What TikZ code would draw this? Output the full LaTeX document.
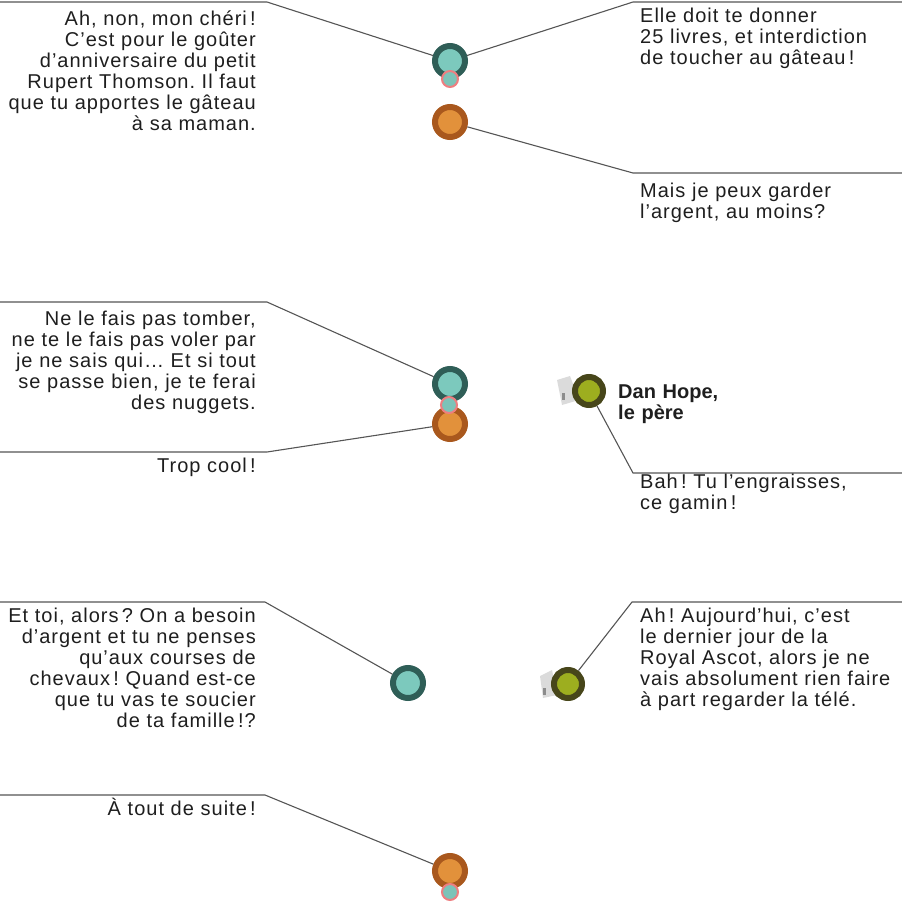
\documentclass[tikz,border=0pt]{standalone}
\usepackage{fontspec}
\setmainfont{Liberation Sans}
\newfontfamily\tracked[LetterSpace=5]{Liberation Sans}
\frenchspacing
\definecolor{tealdark}{HTML}{2F5E57}
\definecolor{teallight}{HTML}{7CC9BD}
\definecolor{orangedark}{HTML}{A9581D}
\definecolor{orangelight}{HTML}{E2913B}
\definecolor{pinkring}{HTML}{EE7E80}
\definecolor{olivedark}{HTML}{47461A}
\definecolor{olivelight}{HTML}{9DAE1F}
\definecolor{wire}{HTML}{555555}
\definecolor{ink}{HTML}{1E1E1E}
\begin{document}
\begin{tikzpicture}[x=1pt,y=-1pt,
		mum/.style={circle,inner sep=0,minimum size=30pt,line width=6pt,draw=tealdark,fill=teallight},
		boy/.style={circle,inner sep=0,minimum size=30pt,line width=6pt,draw=orangedark,fill=orangelight},
		baby/.style={circle,inner sep=0,minimum size=16pt,line width=2pt,draw=pinkring,fill=teallight!92!gray},
		dad/.style={circle,inner sep=0,minimum size=28pt,line width=6pt,draw=olivedark,fill=olivelight},
		paper/.style={fill=black!14},
		talk/.style={draw=wire,line width=1.1pt},
		saysl/.style={anchor=base east,text width=270pt,align=right,inner sep=0,text=ink,font=\tracked\frenchspacing\fontsize{20}{21}\selectfont},
		saysr/.style={anchor=base west,text width=262pt,align=left,inner sep=0,text=ink,font=\tracked\frenchspacing\fontsize{20}{21}\selectfont}]
		\useasboundingbox (0,0) rectangle (902,913);
		%family
		\node[mum](m1) at (450,61) {};
		\node[boy](k1) at (450,122) {};
		\node[mum](m2) at (450,384) {};
		\node[boy](k2) at (450,424) {};
		\node[mum](m3) at (408,683) {};
		\node[boy](k3) at (450,871) {};
		\node[baby](b3) at (450,892) {};
		%father with his paper
		\fill[paper] (557,380) -- (570,376) -- (579,400) -- (562,405) -- cycle;
		\fill[black!45] (562,393) rectangle (565,400);
		\node[dad](d1) at (589,391) {};
		\fill[paper] (540,676) -- (552,670) -- (557,695) -- (543,698) -- cycle;
		\fill[black!45] (543,688) rectangle (546,695);
		\node[dad](d2) at (568,684) {};
		%bends
		\coordinate (p1) at (267,2);   \coordinate (q1) at (0,2);
		\coordinate (p2) at (633,2);   \coordinate (q2) at (902,2);
		\coordinate (p3) at (633,173); \coordinate (q3) at (902,173);
		\coordinate (p4) at (267,302); \coordinate (q4) at (0,302);
		\coordinate (p5) at (267,452); \coordinate (q5) at (0,452);
		\coordinate (p6) at (633,473); \coordinate (q6) at (902,473);
		\coordinate (p7) at (265,602); \coordinate (q7) at (0,602);
		\coordinate (p8) at (632,602); \coordinate (q8) at (902,602);
		\coordinate (p9) at (265,795); \coordinate (q9) at (0,795);
		%lines
		\draw[talk] (m1) -- (p1) -- (q1);
		\draw[talk] (m1) -- (p2) -- (q2);
		\draw[talk] (k1) -- (p3) -- (q3);
		\draw[talk] (m2) -- (p4) -- (q4);
		\draw[talk] (k2) -- (p5) -- (q5);
		\draw[talk] (d1) -- (p6) -- (q6);
		\draw[talk] (m3) -- (p7) -- (q7);
		\draw[talk] (d2) -- (p8) -- (q8);
		\draw[talk] (k3) -- (p9) -- (q9);
		\node[baby](b1) at (450,79) {};
		\node[baby](b2) at (449,405) {};
		%speech
		\node[saysl](t1) at (256,25) {Ah, non, mon chéri\,!\\C’est pour le goûter\\d’anniversaire du petit\\Rupert Thomson. Il faut\\que tu apportes le gâteau\\à sa maman.};
		\node[saysr](t2) at (640,22) {Elle doit te donner\\25 livres, et interdiction\\de toucher au gâteau\,!};
		\node[saysr](t3) at (640,197) {Mais je peux garder\\l’argent, au moins?};
		\node[saysl](t4) at (256,325) {Ne le fais pas tomber,\\ne te le fais pas voler par\\je ne sais qui… Et si tout\\se passe bien, je te ferai\\des nuggets.};
		\node[saysl](t5) at (256,472) {Trop cool\,!};
		\node[saysr,font=\fontsize{20}{21}\selectfont\bfseries](who) at (618,398) {Dan Hope,\\le père};
		\node[saysr](t6) at (640,488) {Bah\,! Tu l’engraisses,\\ce gamin\,!};
		\node[saysl](t7) at (256,622) {Et toi, alors\,? On a besoin\\d’argent et tu ne penses\\qu’aux courses de\\chevaux\,! Quand est-ce\\que tu vas te soucier\\de ta famille\,!?};
		\node[saysr](t8) at (640,622) {Ah\,! Aujourd’hui, c’est\\le dernier jour de la\\Royal Ascot, alors je ne\\vais absolument rien faire\\à part regarder la télé.};
		\node[saysl](t9) at (256,815) {À tout de suite\,!};
\end{tikzpicture}
\end{document}
